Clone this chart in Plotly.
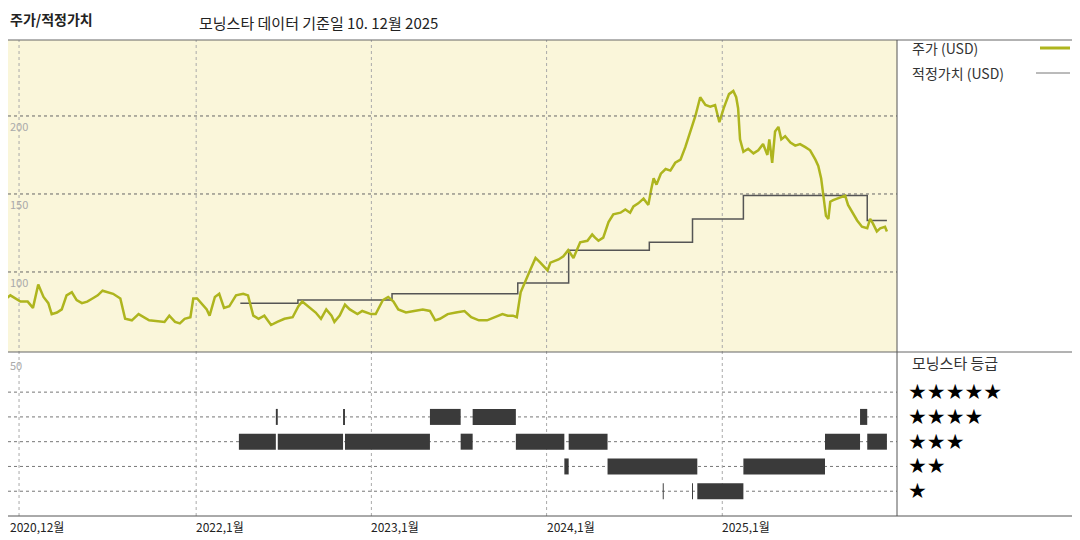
import plotly.graph_objects as go

price_dates = ["2020-11-27","2020-12-10","2020-12-31","2021-01-15","2021-01-26","2021-02-06","2021-02-17","2021-02-27","2021-03-06","2021-03-17","2021-03-27","2021-04-06","2021-04-17","2021-04-27","2021-05-08","2021-05-19","2021-05-30","2021-06-10","2021-06-20","2021-07-01","2021-07-12","2021-07-27","2021-08-06","2021-08-20","2021-09-03","2021-09-25","2021-10-17","2021-10-27","2021-11-06","2021-11-18","2021-11-28","2021-12-08","2021-12-20","2021-12-26","2022-01-03","2022-01-14","2022-01-23","2022-01-29","2022-02-09","2022-02-18","2022-02-28","2022-03-11","2022-03-25","2022-04-09","2022-04-19","2022-04-30","2022-05-11","2022-05-23","2022-06-06","2022-06-19","2022-07-04","2022-07-21","2022-08-02","2022-08-10","2022-08-23","2022-09-07","2022-09-18","2022-09-29","2022-10-10","2022-10-16","2022-10-27","2022-11-07","2022-11-17","2022-12-03","2022-12-13","2022-12-31","2023-01-10","2023-01-25","2023-02-05","2023-02-16","2023-02-26","2023-03-14","2023-03-31","2023-04-18","2023-05-03","2023-05-14","2023-05-24","2023-06-09","2023-06-26","2023-07-14","2023-07-28","2023-08-13","2023-08-30","2023-09-16","2023-10-01","2023-10-12","2023-10-23","2023-10-31","2023-11-03","2023-11-08","2023-11-29","2023-12-09","2023-12-19","2024-01-03","2024-01-09","2024-01-26","2024-02-05","2024-02-15","2024-02-26","2024-03-05","2024-03-11","2024-03-26","2024-04-05","2024-04-11","2024-04-18","2024-04-28","2024-05-09","2024-05-19","2024-06-03","2024-06-13","2024-06-23","2024-06-30","2024-07-10","2024-07-21","2024-07-31","2024-08-06","2024-08-11","2024-08-17","2024-08-26","2024-09-05","2024-09-15","2024-09-25","2024-10-06","2024-10-16","2024-10-26","2024-11-06","2024-11-16","2024-11-27","2024-12-07","2024-12-17","2024-12-26","2025-01-04","2025-01-15","2025-01-24","2025-01-30","2025-02-03","2025-02-07","2025-02-14","2025-02-24","2025-03-07","2025-03-17","2025-03-27","2025-04-05","2025-04-09","2025-04-15","2025-04-21","2025-04-28","2025-05-04","2025-05-12","2025-05-23","2025-06-02","2025-06-12","2025-06-23","2025-07-03","2025-07-14","2025-07-20","2025-07-26","2025-07-30","2025-08-05","2025-08-10","2025-08-14","2025-08-20","2025-09-04","2025-09-14","2025-09-20","2025-09-29","2025-10-09","2025-10-19","2025-10-30","2025-11-05","2025-11-11","2025-11-19","2025-11-26","2025-12-06","2025-12-10"]
price_values = [82,85,81,81,77,92,84,80,73,74,76,85,87,82,80,81,83,85,88,87,86,83,70,69,73,69,68,68,72,68,67,70,71,83,83,79,76,72,84,86,77,78,85,86,85,72,70,72,66,68,70,71,78,81,78,74,70,76,72,68,72,79,76,73,75,73,73,82,84,81,76,74,75,76,75,69,70,73,74,75,71,69,69,71,73,72,72,71,78,87,102,109,106,101,106,108,110,114,109,115,119,120,124,122,120,122,132,137,138,140,138,142,144,147,143,153,160,156,163,166,165,170,172,180,190,200,212,207,206,207,196,205,214,216,212,205,185,177,179,176,178,182,175,185,170,190,193,185,187,183,181,182,180,178,172,168,160,150,136,134,145,146,148,149,143,138,133,129,128,134,131,126,128,129,126]

fair_dates = ["2022-04-03","2022-08-01","2023-02-13","2023-11-02","2024-02-16","2024-08-02","2024-10-31","2025-02-14","2025-10-30","2025-12-10"]
fair_values = [80,82,86,93,114,119,134,149,133,133]

rating_stars = [4,4,4,4,4,
                3,3,3,3,3,3,3,3,
                2,2,2,
                1,1,1]
rating_start = ["2022-06-16","2022-11-03","2023-05-03","2023-07-31","2025-10-15",
                "2022-03-31","2022-06-20","2022-11-07","2023-07-06","2023-10-29","2024-02-16","2025-08-03","2025-10-30",
                "2024-02-07","2024-05-07","2025-02-14",
                "2024-08-30","2024-10-30","2024-11-10"]
rating_end = ["2022-06-20","2022-11-07","2023-07-06","2023-10-29","2025-10-30",
              "2022-06-16","2022-11-03","2023-05-03","2023-07-31","2024-02-07","2024-05-07","2025-10-15","2025-12-10",
              "2024-02-16","2024-11-10","2025-08-03",
              "2024-09-01","2024-11-01","2025-02-14"]

grid_dates = ["2020-12-28","2022-01-01","2023-01-01","2024-01-01","2025-01-01"]
x_tick_labels = ["2020,12월","2022,1월","2023,1월","2024,1월","2025,1월"]
y_ticks = [250,200,150,100]
star_labels = ["★★★★★","★★★★","★★★","★★","★"]

# page has an 8px body margin: convert reference pixels to paper coords
def px(x): return (x - 8) / 1080
def py(y): return 1 - (y - 8) / 540

X0, X1 = 0.0, px(897)
TOP, MID, BOT = py(40), py(352), py(516)
XR = ["2020-12-05", "2025-12-31"]
FONT = "Noto Sans CJK KR, Noto Sans, sans-serif"
GREEN = "#AEB51E"

fig = go.Figure()
fig.add_trace(go.Scatter(x=fair_dates, y=fair_values, mode="lines", line=dict(color="#555", width=1.5, shape="hv"), xaxis="x", yaxis="y", hoverinfo="skip"))
fig.add_trace(go.Scatter(x=price_dates, y=price_values, mode="lines", line=dict(color=GREEN, width=2.5), xaxis="x", yaxis="y"))

rx, ry = [], []
for s, a, b in zip(rating_stars, rating_start, rating_end):
    rx += [a, b, None]; ry += [s, s, None]
fig.add_trace(go.Scatter(x=rx, y=ry, mode="lines", line=dict(color="#3a3a3a", width=16), xaxis="x2", yaxis="y2", connectgaps=False))

shapes = []
shapes.append(dict(type="rect", xref="paper", yref="paper", x0=X0, x1=X1, y0=MID, y1=TOP, fillcolor="#FAF6DA", line_width=0, layer="below"))
for v in [200, 150, 100]:
    shapes.append(dict(type="line", xref="paper", yref="y", x0=X0, x1=X1, y0=v, y1=v, line=dict(color="#666", width=1, dash="dot")))
for r in [5, 4, 3, 2, 1]:
    shapes.append(dict(type="line", xref="paper", yref="y2", x0=X0, x1=X1, y0=r, y1=r, line=dict(color="#777", width=1, dash="dot"), layer="below"))
for t in grid_dates:
    shapes.append(dict(type="line", xref="x", yref="paper", x0=t, x1=t, y0=BOT, y1=TOP, line=dict(color="#aaa", width=1, dash="dot"), layer="below"))
shapes.append(dict(type="line", xref="paper", yref="paper", x0=X0, x1=1, y0=TOP, y1=TOP, line=dict(color="#666", width=1)))
shapes.append(dict(type="line", xref="paper", yref="paper", x0=X0, x1=1, y0=MID, y1=MID, line=dict(color="#666", width=1)))
shapes.append(dict(type="line", xref="paper", yref="paper", x0=X0, x1=1, y0=BOT, y1=BOT, line=dict(color="#555", width=1)))
shapes.append(dict(type="line", xref="paper", yref="paper", x0=X1, x1=X1, y0=BOT, y1=TOP, line=dict(color="#555", width=1)))
shapes.append(dict(type="line", xref="paper", yref="paper", x0=px(1040), x1=px(1070), y0=py(48), y1=py(48), line=dict(color=GREEN, width=3)))
shapes.append(dict(type="line", xref="paper", yref="paper", x0=px(1036), x1=px(1070), y0=py(73), y1=py(73), line=dict(color="#777", width=1)))

ann = []
ann.append(dict(text="<b>주가/적정가치</b>", x=px(8), y=py(7), xref="paper", yref="paper", xanchor="left", yanchor="top", showarrow=False, font=dict(size=14, color="#222")))
ann.append(dict(text="모닝스타 데이터 기준일 10. 12월 2025", x=px(197), y=py(10), xref="paper", yref="paper", xanchor="left", yanchor="top", showarrow=False, font=dict(size=15, color="#222")))
for v in y_ticks:
    ann.append(dict(text=str(v), x=X0, y=v, xref="paper", yref="y", xanchor="left", yanchor="top", showarrow=False, font=dict(size=11, color="#aaa"), yshift=(-8 if v == 250 else 0)))
ann.append(dict(text="50", x=X0, y=py(355), xref="paper", yref="paper", xanchor="left", yanchor="top", showarrow=False, font=dict(size=11, color="#aaa")))
for t, l in zip(grid_dates[1:], x_tick_labels[1:]):
    ann.append(dict(text=l, x=t, y=BOT, xref="x", yref="paper", xanchor="left", yanchor="top", showarrow=False, font=dict(size=12, color="#222"), xshift=-2))
ann.append(dict(text=x_tick_labels[0], x=X0, y=BOT, xref="paper", yref="paper", xanchor="left", yanchor="top", showarrow=False, font=dict(size=12, color="#222")))
ann.append(dict(text="주가 (USD)", x=px(910), y=py(48), xref="paper", yref="paper", xanchor="left", yanchor="middle", showarrow=False, font=dict(size=14, color="#333")))
ann.append(dict(text="적정가치 (USD)", x=px(910), y=py(73), xref="paper", yref="paper", xanchor="left", yanchor="middle", showarrow=False, font=dict(size=14, color="#333")))
ann.append(dict(text="모닝스타 등급", x=px(910), y=py(362), xref="paper", yref="paper", xanchor="left", yanchor="middle", showarrow=False, font=dict(size=15, color="#333")))
for i, s in enumerate(star_labels):
    ann.append(dict(text=s, x=px(906), y=5 - i, xref="paper", yref="y2", xanchor="left", yanchor="middle", showarrow=False, font=dict(size=21, color="#000", family="DejaVu Sans")))

fig.update_layout(
    width=1080, height=540, margin=dict(l=0, r=0, t=0, b=0),
    paper_bgcolor="white", plot_bgcolor="rgba(0,0,0,0)", showlegend=False,
    font=dict(family=FONT),
    xaxis=dict(domain=[X0, X1], range=XR, type="date", showgrid=False, showticklabels=False, zeroline=False, anchor="y"),
    yaxis=dict(domain=[MID, TOP], range=[48.7, 248.7], showgrid=False, showticklabels=False, zeroline=False),
    xaxis2=dict(domain=[X0, X1], range=XR, type="date", showgrid=False, showticklabels=False, zeroline=False, anchor="y2", matches="x"),
    yaxis2=dict(domain=[BOT, MID], range=[0, 6.62], showgrid=False, showticklabels=False, zeroline=False),
    shapes=shapes, annotations=ann,
)
fig.write_html("out.html")
